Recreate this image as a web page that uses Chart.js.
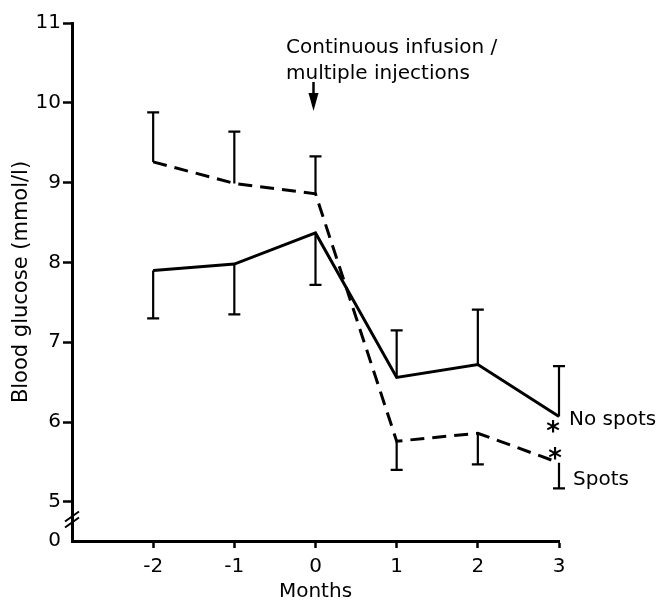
<!DOCTYPE html>
<html>
<head>
<meta charset="utf-8">
<script src="https://cdn.jsdelivr.net/npm/chart.js@4"></script>
<style>
  body { margin: 0; background: #fff; }
  #wrap { width: 658px; height: 602px; }
</style>
</head>
<body>
<div id="wrap"><canvas id="myChart" width="658" height="602"></canvas></div>
<script>
/* data */
const months = [-2, -1, 0, 1, 2, 3];
const noSpots = [7.9, 7.98, 8.37, 6.56, 6.72, 6.07];
const noSpotsErr = [7.3, 7.35, 7.72, 7.15, 7.41, 6.7];
const spots = [9.26, 8.99, 8.86, 5.76, 5.86, 5.49];
const spotsErr = [9.88, 9.64, 9.33, 5.4, 5.47, 5.17];
const yTicks = [5, 6, 7, 8, 9, 10, 11];
const xTicks = [-2, -1, 0, 1, 2, 3];
const Y_ZERO = 4.51; // where the broken axis puts "0"

const FONT = "DejaVu Sans";

const ctx1 = document.getElementById("myChart").getContext("2d");

// error bars, break marks, notes
const extras = {
  id: "extras",
  afterDatasetsDraw(chart) {
    const { ctx, scales: { x, y } } = chart;
    ctx.save();
    ctx.strokeStyle = "#000";
    ctx.fillStyle = "#000";
    ctx.lineWidth = 2.2;
    [[noSpots, noSpotsErr], [spots, spotsErr]].forEach(([vals, errs]) => {
      months.forEach((m, i) => {
        const px = x.getPixelForValue(m);
        const y0 = y.getPixelForValue(vals[i]);
        const y1 = y.getPixelForValue(errs[i]);
        ctx.beginPath();
        ctx.moveTo(px, y0);
        ctx.lineTo(px, y1);
        ctx.moveTo(px - 6, y1);
        ctx.lineTo(px + 6, y1);
        ctx.stroke();
      });
    });

    // axis break
    const bx = x.left;
    const by = y.getPixelForValue(4.78);
    ctx.lineWidth = 2;
    ctx.beginPath();
    ctx.moveTo(bx - 7, by + 2);
    ctx.lineTo(bx + 7, by - 8);
    ctx.moveTo(bx - 7, by + 8);
    ctx.lineTo(bx + 7, by - 2);
    ctx.stroke();

    // arrow at start of treatment
    const ax = x.getPixelForValue(0) - 2;
    ctx.lineWidth = 2.5;
    ctx.beginPath();
    ctx.moveTo(ax, 82);
    ctx.lineTo(ax, 96);
    ctx.stroke();
    ctx.beginPath();
    ctx.moveTo(ax - 5, 93);
    ctx.lineTo(ax + 5, 93);
    ctx.lineTo(ax, 111);
    ctx.closePath();
    ctx.fill();

    ctx.font = "20px " + FONT;
    ctx.textBaseline = "alphabetic";
    ctx.textAlign = "left";
    ctx.fillText("Continuous infusion /", 286, 53);
    ctx.fillText("multiple injections", 286, 79);

    const x3 = x.getPixelForValue(3);
    ctx.textBaseline = "middle";
    ctx.fillText("No spots", x3 + 10, 420);
    ctx.fillText("Spots", x3 + 14, 480);

    ctx.font = "bold 26px " + FONT;
    ctx.textAlign = "center";
    ctx.fillText("*", x3 - 6, y.getPixelForValue(noSpots[5]) + 17);
    ctx.fillText("*", x3 - 4, y.getPixelForValue(spots[5]) - 3);
    ctx.restore();
  }
};

const data1 = {
  datasets: [
    {
      label: "No spots",
      data: months.map((m, i) => ({ x: m, y: noSpots[i] })),
      borderColor: "#000",
      borderWidth: 3,
      pointRadius: 0,
      showLine: true,
    },
    {
      label: "Spots",
      data: months.map((m, i) => ({ x: m, y: spots[i] })),
      borderColor: "#000",
      borderWidth: 3,
      borderDash: [14, 8],
      pointRadius: 0,
      showLine: true,
    },
  ],
};

const config1 = {
  type: "scatter",
  data: data1,
  plugins: [extras],
  options: {
    responsive: false,
    animation: false,
    layout: { padding: { top: 23, right: 99, bottom: 0, left: 0 } },
    plugins: { legend: { display: false }, tooltip: { enabled: false } },
    scales: {
      x: {
        type: "linear",
        min: -3,
        max: 3,
        afterBuildTicks: (axis) => { axis.ticks = xTicks.map((v) => ({ value: v })); },
        afterFit: (axis) => { axis.height = 61; },
        border: { color: "#000", width: 3 },
        grid: { drawOnChartArea: false, color: "#000", tickLength: 7, tickWidth: 2.5 },
        ticks: { color: "#000", font: { family: FONT, size: 20 }, padding: 7 },
        title: { display: true, text: "Months", color: "#000", font: { family: FONT, size: 20, lineHeight: 1 }, padding: { top: 0, bottom: 0 } },
      },
      y: {
        type: "linear",
        min: Y_ZERO,
        max: 11,
        afterBuildTicks: (axis) => { axis.ticks = [Y_ZERO, ...yTicks].map((v) => ({ value: v })); },
        afterFit: (axis) => { axis.width = 72; },
        border: { color: "#000", width: 3 },
        grid: {
          drawOnChartArea: false,
          color: "#000",
          tickColor: (c) => (c.tick && c.tick.value < 5 ? "rgba(0,0,0,0)" : "#000"),
          tickLength: 9,
          tickWidth: 2.5,
        },
        ticks: {
          color: "#000",
          font: { family: FONT, size: 20 },
          padding: 2,
          callback: (v) => (v < 5 ? "0" : v),
        },
        title: { display: true, text: "Blood glucose (mmol/l)", color: "#000", font: { family: FONT, size: 21 }, padding: { top: 9, bottom: 0 } },
      },
    },
  },
};

const myChart1 = new Chart(ctx1, config1);
</script>
</body>
</html>
